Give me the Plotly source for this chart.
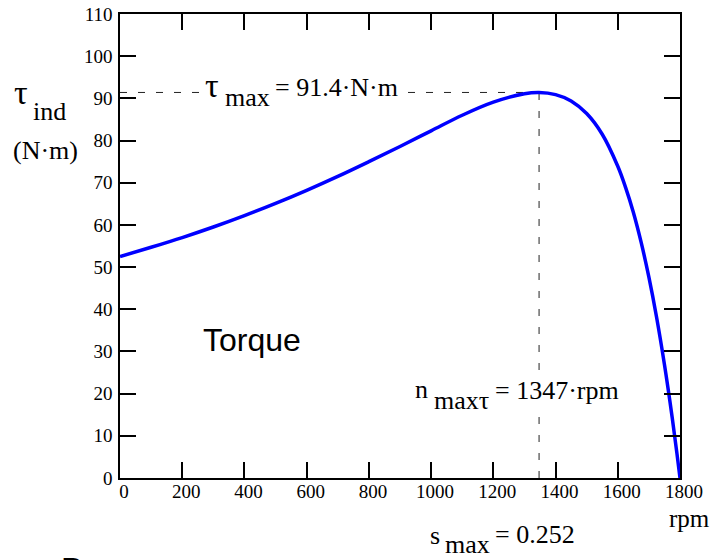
import plotly.graph_objects as go

# ---- data ----
speed_rpm = [0, 100, 200, 300, 400, 500, 600, 700, 800, 900, 1000, 1100, 1200,
             1300, 1347, 1400, 1450, 1500, 1550, 1600, 1625, 1650, 1675, 1700,
             1725, 1750, 1775, 1790, 1800]
torque_nm = [52.5, 54.7, 57.0, 59.5, 62.2, 65.1, 68.2, 71.5, 75.0, 78.6, 82.3,
             86.0, 89.1, 91.1, 91.4, 90.9, 89.4, 86.4, 81.5, 73.9, 68.9, 63.0,
             55.9, 47.6, 38.0, 26.9, 14.3, 5.9, 0.0]
tau_max = 91.4
n_max = 1347
s_max = 0.252
x_ticks = [0, 200, 400, 600, 800, 1000, 1200, 1400, 1600, 1800]
y_ticks = [0, 10, 20, 30, 40, 50, 60, 70, 80, 90, 100, 110]

W, H = 712, 560
L, R, T, B = 120, 32, 14, 82
PW, PH = W - L - R, H - T - B

SERIF = "Liberation Serif, Times New Roman, serif"
SANS = "Liberation Sans, Arial, sans-serif"


def px(x):
    return (x - L) / PW


def py(y):
    return (H - B - y) / PH


fig = go.Figure()

# dashed guide lines
fig.add_trace(go.Scatter(x=[0, n_max], y=[tau_max, tau_max], mode="lines",
                         line=dict(color="#222222", width=1, dash="7px,11px"),
                         hoverinfo="skip", showlegend=False))
fig.add_trace(go.Scatter(x=[n_max, n_max], y=[0, tau_max], mode="lines",
                         line=dict(color="#222222", width=1, dash="7px,11px"),
                         hoverinfo="skip", showlegend=False))

# torque curve
fig.add_trace(go.Scatter(x=speed_rpm, y=torque_nm, mode="lines",
                         line=dict(color="#0000ff", width=3.5, shape="spline"),
                         showlegend=False))

anns = []


def txt(text, xl, yc, size=26, family=SERIF, bg=None):
    d = dict(text=text, x=px(xl), y=py(yc), xref="paper", yref="paper",
             xanchor="left", yanchor="middle", showarrow=False,
             font=dict(family=family, size=size, color="black"))
    if bg:
        d["bgcolor"] = bg
    anns.append(d)


# y-axis label
txt("τ", 12, 93, size=34)
txt("ind", 31, 112)
txt("(N·m)", 11, 151, size=26)
# tau max label
txt("τ", 203, 85, size=34, bg="white")
txt("max", 223, 97, bg="white")
txt(f"= {tau_max}·N·m", 273, 88, bg="white")
# n max label
txt("n", 413, 389, bg="white")
txt("maxτ", 432, 400, bg="white")
txt(f"= {n_max}·rpm", 493, 390, bg="white")
# s max label
txt("s", 428, 535)
txt("max", 443, 544)
txt(f"= {s_max}", 493, 534)
# unit
txt("rpm", 667, 518, size=25)
# Torque label
txt("Torque", 201, 340, size=32, family=SANS)
# cut-off label at bottom
txt("Power", 59, 569, size=32, family=SANS)

axis_common = dict(showline=True, linecolor="black", linewidth=1.5,
                   mirror="ticks", ticks="inside", ticklen=16, tickwidth=1.5,
                   tickcolor="black", showgrid=False, zeroline=False,
                   automargin=False,
                   tickfont=dict(family=SERIF, size=19, color="black"))

fig.update_layout(
    width=W, height=H, autosize=False,
    margin=dict(l=L, r=R, t=T, b=B, pad=0, autoexpand=False),
    paper_bgcolor="white", plot_bgcolor="white",
    xaxis=dict(range=[0, 1800], tickvals=x_ticks,
               ticktext=[str(v) for v in x_ticks], ticklabelshift=4,
               ticklabelstandoff=-5, **axis_common),
    yaxis=dict(range=[0, 110], tickvals=y_ticks,
               ticktext=[str(v) for v in y_ticks], ticklabelstandoff=2,
               **axis_common),
    annotations=anns,
)

fig.write_html("out.html", config={"responsive": False, "displayModeBar": False},
               post_script="document.body.style.margin='0';"
                           "document.body.style.overflow='hidden';")
